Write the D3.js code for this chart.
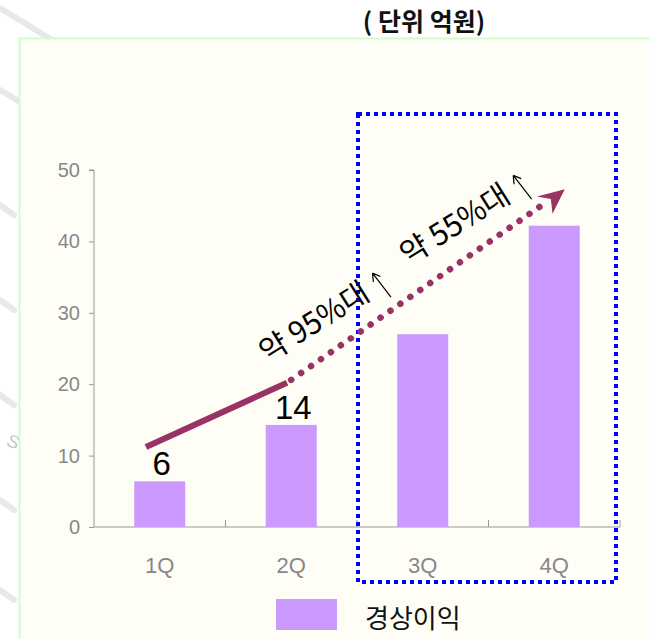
<!DOCTYPE html>
<html><head><meta charset="utf-8">
<script src="https://cdn.jsdelivr.net/npm/d3@7"></script>
<style>
html,body{margin:0;padding:0;background:#fff;}
svg{display:block;}
</style></head>
<body>
<svg id="chart" width="649" height="639"></svg>
<script>
// ---- data ----
const categories = ["1Q", "2Q", "3Q", "4Q"];
const profit = [6.4, 14.3, 27.0, 42.2];          // 경상이익 (억원)
const valueLabels = ["6", "14", "", ""];
const yTicks = [0, 10, 20, 30, 40, 50];
const seriesName = "경상이익";
const unitTitle = "( 단위 억원)";
// trend annotation, in (category position, value) units
const trendSolid = [{pos: 0.395, v: 11.2}, {pos: 1.468, v: 20.2}];
const trendDotted = [{pos: 1.468, v: 20.2}, {pos: 3.58, v: 47.3}];
const growthNotes = [
  {pos: 1.32, v: 22.9, text: "약 95%대"},
  {pos: 2.39, v: 36.6, text: "약 55%대"}
];

// ---- layout ----
const svg = d3.select("#chart");
const W = 649, H = 639;
const plot = {left: 94, right: 620, top: 170, bottom: 527};

// watermark strokes outside the frame
const wm = svg.append("g").attr("stroke", "#e8e8e8").attr("stroke-width", 6).attr("stroke-linecap", "round");
[[0,8,150,100],[0,90,30,108],[0,205,14,215],[0,300,14,310],[0,395,14,405],[0,500,14,510],[0,590,14,600]]
  .forEach(s => wm.append("line").attr("x1", s[0]).attr("y1", s[1]).attr("x2", s[2]).attr("y2", s[3]));
svg.append("text").attr("x", 8).attr("y", 448).attr("transform", "rotate(25,14,440)")
  .attr("font-family", "Liberation Sans").attr("font-size", 18).attr("fill", "#c8c8c8").text("S");

// frame
svg.append("rect").attr("x", 19.5).attr("y", 38.5).attr("width", W + 10).attr("height", H + 10)
  .attr("fill", "#fefef6").attr("stroke", "#ccffcc").attr("stroke-width", 2);

// title
svg.append("text").attr("x", 424).attr("y", 31).attr("text-anchor", "middle")
  .attr("font-family", "'Noto Sans CJK KR',sans-serif").attr("font-weight", 700).attr("font-size", 25)
  .attr("fill", "#111").text(unitTitle);

// scales
const x = d3.scaleBand().domain(categories).range([plot.left, plot.right])
  .paddingInner(0.612).paddingOuter(0.306);
const xPos = d3.scaleLinear().domain([0, categories.length]).range([plot.left, plot.right]);
const y = d3.scaleLinear().domain([0, 50]).range([plot.bottom, plot.top]);

const numFont = "'Liberation Sans',Arial,sans-serif";

// y axis
const yAxis = svg.append("g").attr("transform", `translate(${plot.left},0)`)
  .call(d3.axisLeft(y).tickValues(yTicks).tickSize(5).tickPadding(9));
yAxis.select(".domain").attr("stroke", "#999").attr("d", `M-5,${y(50)}H0V${y(0)}`);
yAxis.selectAll(".tick line").attr("stroke", "#999");
yAxis.selectAll(".tick text").attr("font-family", numFont).attr("font-size", 20).attr("fill", "#888");

// x axis
const xAxis = svg.append("g").attr("transform", `translate(0,${plot.bottom})`)
  .call(d3.axisBottom(x).tickSize(0).tickPadding(30));
xAxis.select(".domain").attr("stroke", "#999").attr("d", `M${plot.left},0H${plot.right}`);
xAxis.selectAll(".tick text").attr("font-family", numFont).attr("font-size", 22).attr("fill", "#888");
// boundary ticks (inside)
svg.append("g").selectAll("line").data(d3.range(1, categories.length + 1)).join("line")
  .attr("x1", d => xPos(d)).attr("x2", d => xPos(d))
  .attr("y1", plot.bottom).attr("y2", plot.bottom - 7)
  .attr("stroke", "#999");

// bars
svg.append("g").selectAll("rect").data(profit).join("rect")
  .attr("x", (d, i) => x(categories[i]))
  .attr("y", d => y(d))
  .attr("width", x.bandwidth())
  .attr("height", d => y(0) - y(d))
  .attr("fill", "#cc99ff");

// value labels
svg.append("g").selectAll("text").data(profit).join("text")
  .attr("x", (d, i) => x(categories[i]) + x.bandwidth() / 2 + 2)
  .attr("y", d => y(d) - 6)
  .attr("text-anchor", "middle")
  .attr("font-family", numFont).attr("font-size", 33).attr("fill", "#000")
  .text((d, i) => valueLabels[i]);

// blue dotted highlight box around 3Q-4Q
svg.append("rect")
  .attr("x", xPos(2) + 1).attr("y", 114)
  .attr("width", xPos(4) - xPos(2) - 5).attr("height", 468)
  .attr("fill", "none").attr("stroke", "#0000ff").attr("stroke-width", 4)
  .attr("stroke-dasharray", "4 4");

// trend line
const line = d3.line().x(d => xPos(d.pos)).y(d => y(d.v));
const trendColor = "#993366";
svg.append("path").attr("d", line(trendSolid)).attr("fill", "none")
  .attr("stroke", trendColor).attr("stroke-width", 6);
const p0 = trendDotted[0], p1 = trendDotted[1];
const ang = Math.atan2(y(p1.v) - y(p0.v), xPos(p1.pos) - xPos(p0.pos)) * 180 / Math.PI;
const tipX = xPos(p1.pos), tipY = y(p1.v);
const rad = ang * Math.PI / 180;
const endX = tipX - 22 * Math.cos(rad), endY = tipY - 22 * Math.sin(rad);
svg.append("path").attr("d", `M${xPos(p0.pos) + 5 * Math.cos(rad)},${y(p0.v) + 5 * Math.sin(rad)}L${endX},${endY}`)
  .attr("fill", "none").attr("stroke", trendColor).attr("stroke-width", 6.5)
  .attr("stroke-linecap", "round").attr("stroke-dasharray", "0.1 12");
// arrow head
svg.append("path")
  .attr("transform", `translate(${tipX},${tipY}) rotate(${ang})`)
  .attr("d", "M0,0 L-27,-10 L-17,0 L-24,13 Z")
  .attr("fill", trendColor);

// growth annotations
growthNotes.forEach(n => {
  const g = svg.append("g")
    .attr("transform", `translate(${xPos(n.pos)},${y(n.v)}) rotate(-32)`);
  const t = g.append("text").attr("x", 0).attr("y", 0)
    .attr("font-family", "'Noto Sans CJK KR',sans-serif").attr("font-size", 30)
    .attr("fill", "#000").text(n.text);
  const len = t.node().getComputedTextLength();
  const ax = len + 15;
  g.append("path").attr("d", `M${ax + 2},9 L${ax - 1},-21 M${ax - 1},-21 L${ax - 5},-13 M${ax - 1},-21 L${ax + 4},-14`)
    .attr("fill", "none").attr("stroke", "#000").attr("stroke-width", 1.2);
});

// legend
svg.append("rect").attr("x", 276).attr("y", 599).attr("width", 61).attr("height", 31).attr("fill", "#cc99ff");
svg.append("text").attr("x", 365).attr("y", 628)
  .attr("font-family", "'Noto Sans CJK KR',sans-serif").attr("font-size", 26)
  .attr("fill", "#111").text(seriesName);
</script>
</body></html>
